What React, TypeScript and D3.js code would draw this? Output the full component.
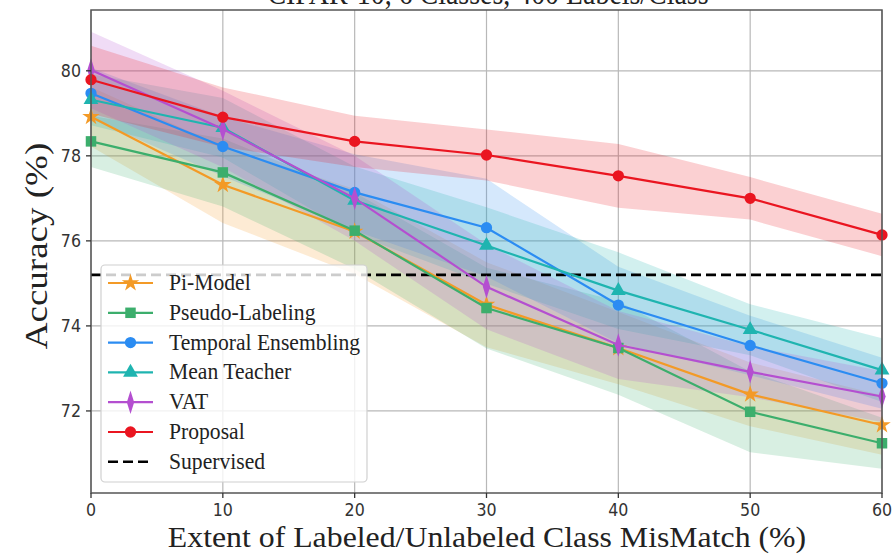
import React, { useEffect, useRef } from "react";
import * as d3 from "d3";

const width = 896;
const height = 556;

// mismatch extent (%)
const extents = [0, 10, 20, 30, 40, 50, 60];

const methods = ["Pi-Model", "Pseudo-Labeling", "Temporal Ensembling", "Mean Teacher", "VAT", "Proposal"];
const colors = ["#f39a26", "#3cae6c", "#2b8cf2", "#1fb4b0", "#b44fd0", "#ea1520"];
const shapes = ["star", "square", "circle", "triangle", "diamond", "circle"];

// mean accuracy per method
const piModel = [78.92, 77.32, 76.22, 74.5, 73.48, 72.39, 71.67];
const pseudoLabeling = [78.34, 77.61, 76.24, 74.42, 73.48, 71.98, 71.24];
const temporal = [79.47, 78.22, 77.14, 76.31, 74.49, 73.54, 72.65];
const meanTeacher = [79.32, 78.66, 76.95, 75.89, 74.83, 73.91, 72.96];
const vat = [80.02, 78.63, 77.0, 74.92, 73.55, 72.92, 72.34];
const proposal = [79.79, 78.91, 78.34, 78.02, 77.53, 77.0, 76.14];

// spread (half width of shaded band)
const piModelStd = [0.7, 0.9, 1.0, 1.0, 0.85, 0.75, 0.7];
const pseudoStd = [0.6, 0.8, 0.9, 0.95, 1.1, 0.95, 0.6];
const temporalStd = [0.6, 0.7, 0.9, 1.15, 0.9, 0.7, 0.6];
const meanTeacherStd = [0.6, 0.7, 0.8, 0.9, 0.9, 0.6, 0.75];
const vatStd = [0.9, 0.9, 1.0, 1.0, 0.8, 0.6, 0.6];
const proposalStd = [0.8, 0.7, 0.6, 0.6, 0.75, 0.5, 0.5];

const supervised = 75.2;

const yTicks = [72, 74, 76, 78, 80];
const xTicks = [0, 10, 20, 30, 40, 50, 60];

const means = [piModel, pseudoLabeling, temporal, meanTeacher, vat, proposal];
const stds = [piModelStd, pseudoStd, temporalStd, meanTeacherStd, vatStd, proposalStd];

const margin = { top: 10, right: 14, bottom: 63, left: 91 };

function markerPath(shape: string) {
  const types: any = {
    star: d3.symbolStar,
    square: d3.symbolSquare,
    circle: d3.symbolCircle,
    triangle: d3.symbolTriangle,
    diamond: d3.symbolDiamond
  };
  const sizes: any = { star: 95, square: 110, circle: 100, triangle: 95, diamond: 110 };
  return d3.symbol().type(types[shape]).size(sizes[shape])();
}

function drawChart(node: SVGSVGElement) {
  const svg = d3.select(node);
  svg.selectAll("*").remove();

  const x = d3.scaleLinear().domain([0, 60]).range([margin.left, width - margin.right - 0]);
  const y = d3.scaleLinear().domain([70.07, 81.43]).range([height - margin.bottom, margin.top]);

  const sans = "'DejaVu Sans', sans-serif";
  const serif = "'Liberation Serif', 'Times New Roman', serif";

  // title (cut off at the top, as in the source figure)
  svg.append("text")
    .attr("transform", `translate(488,4) scale(0.9,1)`)
    .attr("text-anchor", "middle")
    .style("font-family", serif)
    .style("font-size", "31px")
    .attr("fill", "#222")
    .text("CIFAR-10, 6 Classes, 400 Labels/Class");

  // grid
  svg.append("g").selectAll("line.gx")
    .data(xTicks).enter().append("line")
    .attr("x1", d => x(d)).attr("x2", d => x(d))
    .attr("y1", y.range()[1]).attr("y2", y.range()[0])
    .attr("stroke", "#b8b8b8").attr("stroke-width", 1.2);
  svg.append("g").selectAll("line.gy")
    .data(yTicks).enter().append("line")
    .attr("x1", x.range()[0]).attr("x2", x.range()[1])
    .attr("y1", d => y(d)).attr("y2", d => y(d))
    .attr("stroke", "#b8b8b8").attr("stroke-width", 1.2);

  // bands
  const area = d3.area<number>()
    .x((d, i) => x(extents[i]));
  means.forEach((m, k) => {
    svg.append("path")
      .datum(m)
      .attr("d", area.y0((d, i) => y(d - stds[k][i])).y1((d, i) => y(d + stds[k][i])))
      .attr("fill", colors[k])
      .attr("fill-opacity", 0.2);
  });

  // supervised baseline
  svg.append("line")
    .attr("x1", x(0)).attr("x2", x(60))
    .attr("y1", y(supervised)).attr("y2", y(supervised))
    .attr("stroke", "#000").attr("stroke-width", 2.6)
    .attr("stroke-dasharray", "10,5");

  // lines + markers
  const line = d3.line<number>().x((d, i) => x(extents[i])).y(d => y(d));
  means.forEach((m, k) => {
    svg.append("path")
      .datum(m)
      .attr("d", line)
      .attr("fill", "none")
      .attr("stroke", colors[k])
      .attr("stroke-width", 2.2);
    svg.append("g").selectAll("path")
      .data(m).enter().append("path")
      .attr("d", markerPath(shapes[k]))
      .attr("transform", (d, i) => `translate(${x(extents[i])},${y(d)})` + (shapes[k] == "diamond" ? " scale(0.65,1.2)" : ""))
      .attr("fill", colors[k]);
  });

  // frame
  svg.append("rect")
    .attr("x", x.range()[0]).attr("y", y.range()[1])
    .attr("width", x.range()[1] - x.range()[0])
    .attr("height", y.range()[0] - y.range()[1])
    .attr("fill", "none").attr("stroke", "#555").attr("stroke-width", 1.5);

  // ticks
  svg.append("g").selectAll("line")
    .data(yTicks).enter().append("line")
    .attr("x1", x.range()[0] - 5).attr("x2", x.range()[0])
    .attr("y1", d => y(d)).attr("y2", d => y(d))
    .attr("stroke", "#333").attr("stroke-width", 1.3);
  svg.append("g").selectAll("text")
    .data(yTicks).enter().append("text")
    .attr("transform", d => `translate(${x.range()[0] - 10},${y(d) + 6}) scale(0.88,1)`)
    .attr("text-anchor", "end")
    .style("font-family", sans).style("font-size", "18px")
    .attr("fill", "#333")
    .text(d => d);
  svg.append("g").selectAll("line")
    .data(xTicks).enter().append("line")
    .attr("x1", d => x(d)).attr("x2", d => x(d))
    .attr("y1", y.range()[0]).attr("y2", y.range()[0] + 5)
    .attr("stroke", "#333").attr("stroke-width", 1.3);
  svg.append("g").selectAll("text")
    .data(xTicks).enter().append("text")
    .attr("transform", d => `translate(${x(d)},${y.range()[0] + 23}) scale(0.88,1)`)
    .attr("text-anchor", "middle")
    .style("font-family", sans).style("font-size", "18px")
    .attr("fill", "#333")
    .text(d => d);

  // axis titles
  svg.append("text")
    .attr("transform", `translate(487,547) scale(1.06,1)`)
    .attr("text-anchor", "middle")
    .style("font-family", serif).style("font-size", "30px")
    .attr("fill", "#222")
    .text("Extent of Labeled/Unlabeled Class MisMatch (%)");
  svg.append("text")
    .attr("transform", `translate(47,246) rotate(-90) scale(1,0.88)`)
    .attr("text-anchor", "middle")
    .style("font-family", serif).style("font-size", "37px")
    .attr("fill", "#222")
    .text("Accuracy (%)");

  // legend
  const lg = svg.append("g");
  lg.append("rect")
    .attr("x", 101).attr("y", 265).attr("width", 266).attr("height", 217)
    .attr("rx", 4)
    .attr("fill", "#fff").attr("fill-opacity", 0.8)
    .attr("stroke", "#d0d0d0").attr("stroke-width", 1.2);
  const entries = methods.concat(["Supervised"]);
  entries.forEach((name, k) => {
    const ly = 283 + k * 29.8;
    if (k < methods.length) {
      lg.append("line")
        .attr("x1", 108).attr("x2", 153).attr("y1", ly).attr("y2", ly)
        .attr("stroke", colors[k]).attr("stroke-width", 2.2);
      lg.append("path")
        .attr("d", markerPath(shapes[k]))
        .attr("transform", `translate(130.5,${ly})` + (shapes[k] == "diamond" ? " scale(0.65,1.2)" : ""))
        .attr("fill", colors[k]);
    } else {
      lg.append("line")
        .attr("x1", 108).attr("x2", 153).attr("y1", ly).attr("y2", ly)
        .attr("stroke", "#000").attr("stroke-width", 2.6)
        .attr("stroke-dasharray", "10,5");
    }
    lg.append("text")
      .attr("transform", `translate(169,${ly + 7}) scale(0.94,1)`)
      .style("font-family", serif).style("font-size", "23px")
      .attr("fill", "#222")
      .text(name);
  });
}

export default function App() {
  const ref = useRef<SVGSVGElement>(null);
  useEffect(() => {
    if (ref.current) drawChart(ref.current);
  });
  return (
    <svg ref={ref} width={width} height={height}
      style={{ position: "absolute", left: 0, top: 0, background: "#fff" }} />
  );
}
